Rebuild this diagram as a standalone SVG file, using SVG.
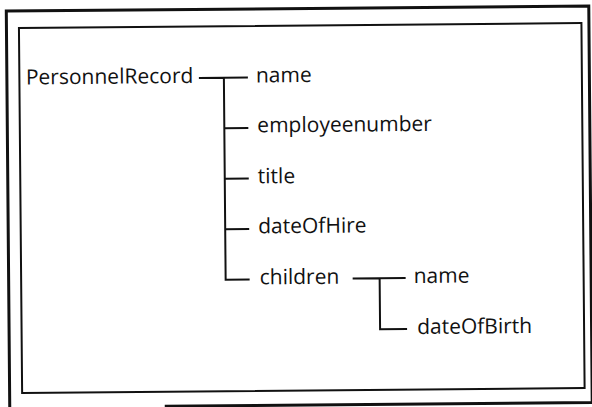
<svg xmlns="http://www.w3.org/2000/svg" width="592" height="407" viewBox="0 0 592 407">
<style>
.t{font-family:"Open Sans","Noto Sans","Liberation Sans",sans-serif;font-size:21px;font-weight:500;fill:#111}
.c{stroke:#111;stroke-width:2;fill:none}
.frame{stroke:#111;fill:none}
</style>
<rect width="592" height="407" fill="#fff"/>
<g transform="rotate(-0.5 300 205)">
<g id="frame">
<path class="frame" stroke-width="3" d="M163 405 H590.5 V8.5 H8 V410"/>
<rect class="frame" stroke-width="2" x="20.5" y="25.5" width="562.5" height="365"/>
</g>
<g id="connectors">
<path class="c" d="M200 77 H249 M225 77 V279 H249 M225 127.5 H249 M225 178 H249 M225 228.5 H249"/>
<path class="c" d="M352 279 H405 M379 279 V330 H406"/>
</g>
<g id="PersonnelRecord"><text class="t" x="27" y="82">PersonnelRecord</text></g>
<g id="name"><text class="t" x="257" y="82">name</text></g>
<g id="employeenumber"><text class="t" x="258" y="132">employeenumber</text></g>
<g id="title"><text class="t" x="258" y="183">title</text></g>
<g id="dateOfHire"><text class="t" x="258" y="233">dateOfHire</text></g>
<g id="children"><text class="t" x="259" y="284">children</text></g>
<g id="childName"><text class="t" x="413" y="284">name</text></g>
<g id="dateOfBirth"><text class="t" x="416" y="335">dateOfBirth</text></g>
</g>
</svg>
